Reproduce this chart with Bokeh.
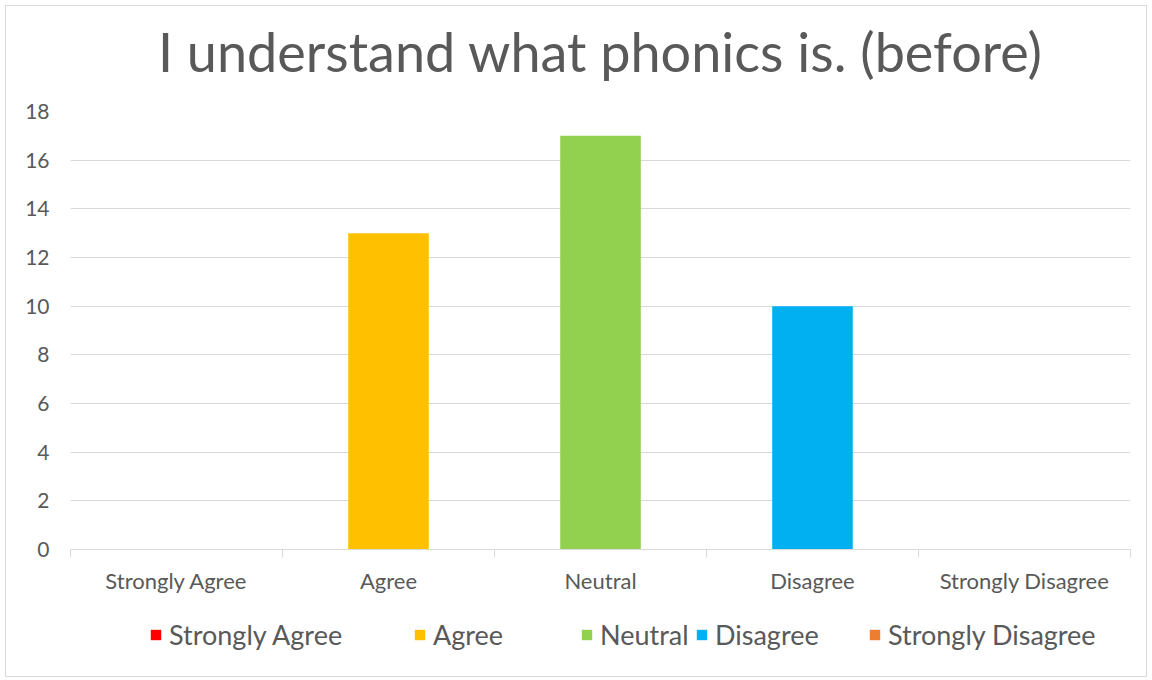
from bokeh.plotting import figure
from bokeh.layouts import column
from bokeh.models import ColumnDataSource, FixedTicker, Legend, LegendItem, Range1d, Label
from bokeh.embed import file_html
from bokeh.resources import INLINE

title_text = "I understand what phonics is. (before)"
categories = ["Strongly Agree", "Agree", "Neutral", "Disagree", "Strongly Disagree"]
values = [0, 13, 17, 10, 0]
colors = ["#FF0000", "#FFC000", "#92D050", "#00B0F0", "#ED7D31"]
y_ticks = [0, 2, 4, 6, 8, 10, 12, 14, 16, 18]
legend_x = [79, 343, 510, 625, 798]  # screen offsets of legend entries

centers = [i + 0.5 for i in range(len(categories))]
source = ColumnDataSource(dict(x=centers, top=values, color=colors, cat=categories))

# title row
tf = figure(width=1140, height=91, output_backend="svg", toolbar_location=None,
            x_range=Range1d(0, 1), y_range=Range1d(0, 1),
            min_border=0, x_axis_location=None, y_axis_location=None)
tf.outline_line_color = None
tf.grid.grid_line_color = None
tf.background_fill_color = "white"
tf.border_fill_color = "white"
tf.add_layout(Label(x=0.5, y=0.505, text=title_text, text_align="center", text_baseline="middle",
                    text_font="Lato", text_font_size="54px", text_color="#595959"))

p = figure(width=1140, height=516, output_backend="svg", toolbar_location=None,
           x_range=Range1d(0, len(categories)), y_range=Range1d(0, 18),
           min_border_left=64, min_border_right=16, min_border_top=14, min_border_bottom=64)
p.outline_line_color = None
p.background_fill_color = "white"
p.border_fill_color = "white"

r = p.vbar(x="x", top="top", width=0.38, color="color", line_color=None, source=source)

# x axis
p.xaxis.ticker = FixedTicker(ticks=centers, minor_ticks=list(range(len(categories) + 1)))
p.xaxis.major_label_overrides = {c: categories[i] for i, c in enumerate(centers)}
p.xaxis.major_tick_out = 0
p.xaxis.major_tick_in = 0
p.xaxis.minor_tick_out = 8
p.xaxis.minor_tick_in = 0
p.xaxis.minor_tick_line_color = "#D9D9D9"
p.xaxis.axis_line_color = "#D9D9D9"
p.xaxis.axis_line_width = 1
p.xaxis.major_label_text_font = "Lato"
p.xaxis.major_label_text_font_size = "22px"
p.xaxis.major_label_text_color = "#595959"
p.xaxis.major_label_standoff = 9
p.xgrid.grid_line_color = None

# y axis
p.yaxis.ticker = FixedTicker(ticks=y_ticks)
p.yaxis.axis_line_color = None
p.yaxis.major_tick_line_color = None
p.yaxis.minor_tick_line_color = None
p.yaxis.major_label_text_font = "Lato"
p.yaxis.major_label_text_font_size = "21px"
p.yaxis.major_label_text_color = "#595959"
p.yaxis.major_label_standoff = 15
p.ygrid.grid_line_color = "#D9D9D9"

# legend row: same bars, kept outside this row's visible ranges so only the legend shows
lf = figure(width=1140, height=63, output_backend="svg", toolbar_location=None,
            x_range=Range1d(100, 105), y_range=Range1d(100, 200),
            min_border=0, x_axis_location=None, y_axis_location=None)
lf.outline_line_color = None
lf.grid.grid_line_color = None
lf.background_fill_color = "white"
lf.border_fill_color = "white"
lr = lf.vbar(x="x", top="top", width=0.38, color="color", line_color=None, source=source)

for i in range(len(categories)):
    lg = Legend(items=[LegendItem(label=categories[i], renderers=[lr], index=i)],
                location=(legend_x[i], 25),
                label_text_font="Lato", label_text_font_size="27px", label_text_color="#595959",
                label_height=30, glyph_width=13, glyph_height=13, label_standoff=7,
                border_line_color=None, background_fill_alpha=0, margin=0, padding=0)
    lf.add_layout(lg, "center")

layout = column(tf, p, lf, spacing=0)
layout.styles = {"border": "1px solid #D9D9D9", "margin-left": "5px", "margin-top": "5px"}

open("out.html", "w").write(file_html(layout, INLINE))
